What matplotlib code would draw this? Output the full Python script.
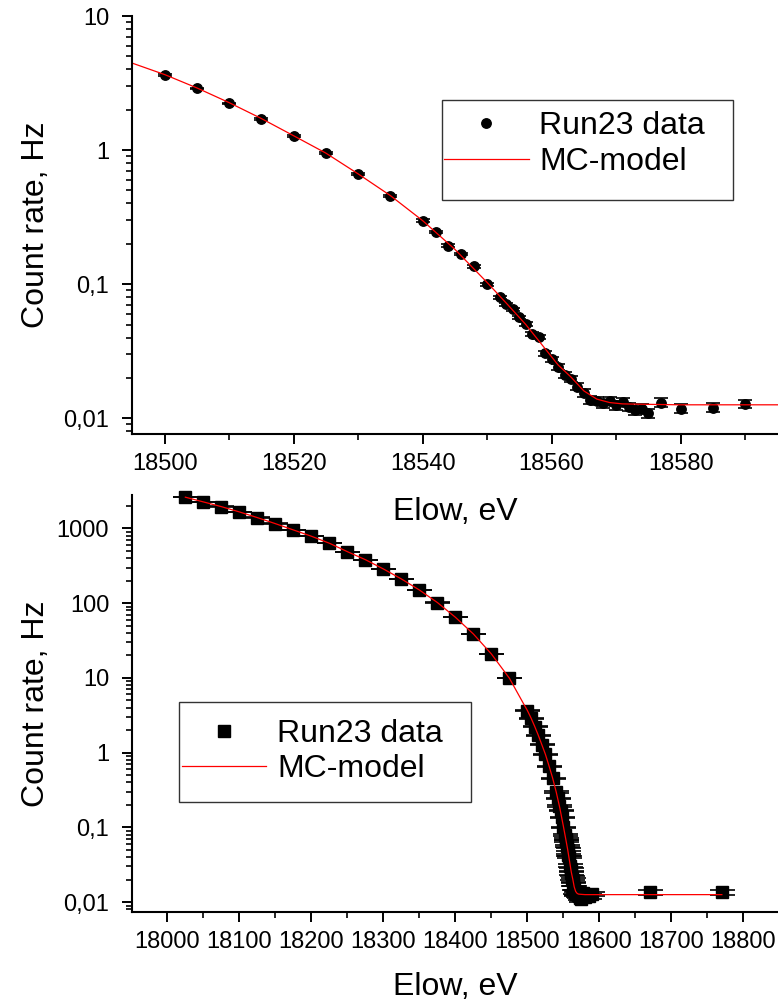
import matplotlib
matplotlib.use('Agg')
import matplotlib.pyplot as plt
from matplotlib.ticker import LogLocator, MultipleLocator, FuncFormatter, NullFormatter
from matplotlib.patches import Rectangle

plt.rcParams['font.family'] = ['Liberation Sans', 'DejaVu Sans']

# Run23, scan close to the endpoint (Elow in eV, count rate in Hz)
run_e = [18500, 18505, 18510, 18515, 18520, 18525, 18530, 18535, 18540,
         18542, 18544, 18546, 18548, 18550,
         18552, 18553, 18554, 18555, 18556, 18557, 18558, 18559, 18560, 18561, 18562, 18563,
         18564, 18565, 18566, 18567, 18568, 18569, 18570, 18571, 18572, 18573, 18574, 18575,
         18577, 18580, 18585, 18590]
run_rate = [3.63, 2.89, 2.23, 1.70, 1.27, 0.946, 0.660, 0.457, 0.298,
            0.245, 0.194, 0.168, 0.136, 0.100,
            0.0798, 0.0708, 0.0650, 0.0566, 0.0505, 0.0425, 0.0404, 0.0305, 0.0275, 0.0243, 0.0210, 0.0197,
            0.0172, 0.0155, 0.0137, 0.0135, 0.0129, 0.0134, 0.0125, 0.0133, 0.0122, 0.0115, 0.0118, 0.0109,
            0.0131, 0.0118, 0.0120, 0.0128]
run_err = [0.05, 0.04, 0.03, 0.025, 0.02, 0.015, 0.011, 0.008, 0.006,
           0.005, 0.004, 0.0035, 0.003, 0.0025,
           0.002, 0.002, 0.0019, 0.0018, 0.0017, 0.0016, 0.0015, 0.0014, 0.0013, 0.0012, 0.0011, 0.0011,
           0.001, 0.001, 0.0009, 0.0009, 0.0009, 0.0009, 0.0009, 0.0009, 0.0009, 0.0009, 0.0009, 0.0009,
           0.0010, 0.0009, 0.0009, 0.0009]

# wide scan below the endpoint (bottom panel only)
wide_e = [18025, 18050, 18075, 18100, 18125, 18150, 18175, 18200, 18225, 18250,
          18275, 18300, 18325, 18350, 18375, 18400, 18425, 18450, 18475]
wide_rate = [2620, 2265, 1958, 1664, 1396, 1159, 955, 787, 634, 489,
             382, 287, 211, 150, 102, 64.8, 38.7, 20.9, 9.9]
wide_err = [13, 11, 10, 8, 7, 6, 5, 4, 3, 2.5,
            2, 1.5, 1.1, 0.8, 0.5, 0.35, 0.2, 0.12, 0.06]

# background points far above the endpoint
tail_e = [18670, 18770]
tail_rate = [0.0135, 0.0135]
tail_err = [0.0009, 0.0009]

# MC model curve
model_e = [18025, 18050, 18075, 18100, 18125, 18150, 18175, 18200, 18225, 18250,
           18275, 18300, 18325, 18350, 18375, 18400, 18425, 18450, 18475, 18495,
           18500, 18505, 18510, 18515, 18520, 18525, 18530, 18535, 18540, 18545,
           18550, 18553, 18556, 18559, 18561, 18563, 18565, 18567, 18569, 18571,
           18575, 18580, 18600, 18770]
model_rate = [2620, 2265, 1958, 1664, 1396, 1159, 955, 787, 634, 489,
              382, 287, 211, 150, 102, 64.8, 38.7, 20.9, 9.9, 4.45,
              3.66, 2.91, 2.26, 1.72, 1.28, 0.95, 0.665, 0.458, 0.298, 0.182,
              0.103, 0.072, 0.050, 0.033, 0.025, 0.0203, 0.0160, 0.0139, 0.0131, 0.0128,
              0.0127, 0.0126, 0.0126, 0.0126]

all_e = wide_e + run_e + tail_e
all_rate = wide_rate + run_rate + tail_rate
all_err = wide_err + run_err + tail_err

comma = FuncFormatter(lambda v, pos: ('%g' % v).replace('.', ','))

fig = plt.figure(figsize=(7.78, 10.08), dpi=100)
ax1 = fig.add_axes([0.1693, 0.5692, 0.8307, 0.4149])
ax2 = fig.add_axes([0.1693, 0.0949, 0.8307, 0.4140])

# top panel
ax1.errorbar(run_e, run_rate, yerr=run_err, fmt='none', ecolor='black',
             elinewidth=1, capsize=4.7, capthick=1.2)
ax1.plot(run_e, run_rate, 'o', color='black', ms=6.8, label='Run23 data')
ax1.plot(model_e, model_rate, '-', color='red', lw=0.9, label='MC-model')
ax1.set_xlim(18494.9, 18595.1)
ax1.set_ylim(0.0076, 10)
ax1.xaxis.set_major_locator(MultipleLocator(20))
ax1.xaxis.set_minor_locator(MultipleLocator(10))

# bottom panel
ax2.errorbar(all_e, all_rate, yerr=all_err, fmt='none', ecolor='black',
             elinewidth=1, capsize=9, capthick=1.2)
ax2.plot(all_e, all_rate, 's', color='black', ms=9, clip_on=False, label='Run23 data')
ax2.plot(model_e, model_rate, '-', color='red', lw=0.9, label='MC-model')
ax2.set_xlim(17950.5, 18848)
ax2.set_ylim(0.0073, 2800)
ax2.xaxis.set_major_locator(MultipleLocator(100))
ax2.xaxis.set_minor_locator(MultipleLocator(50))

for ax in (ax1, ax2):
    ax.patch.set_visible(False)
    ax.set_yscale('log')
    ax.yaxis.set_major_locator(LogLocator(base=10, numticks=20))
    ax.yaxis.set_minor_locator(LogLocator(base=10, subs=range(2, 10), numticks=20))
    ax.yaxis.set_major_formatter(comma)
    ax.yaxis.set_minor_formatter(NullFormatter())
    ax.spines[['top', 'right']].set_visible(False)
    ax.spines[['left', 'bottom']].set_linewidth(1.5)
    ax.tick_params(which='major', direction='out', length=7.2, width=1.4, labelsize=17)
    ax.tick_params(which='minor', direction='out', length=4.3, width=1.2)
    ax.tick_params(axis='x', pad=6.5)
    ax.tick_params(axis='y', pad=9)
    ax.set_xlabel('Elow, eV', fontsize=23)
    ax.set_ylabel('Count rate, Hz', fontsize=23)
    ax.yaxis.set_label_coords(-0.125, 0.5)

ax1.xaxis.set_label_coords(0.5, -0.151)
ax2.xaxis.set_label_coords(0.5, -0.142)

ax1.legend(loc='upper left', bbox_to_anchor=(444 / 778, 1 - 111 / 1008),
           bbox_transform=fig.transFigure, frameon=False, borderpad=0, borderaxespad=0,
           handlelength=2.66, handletextpad=0.31, labelspacing=0.2, fontsize=23)
ax2.legend(loc='upper left', bbox_to_anchor=(182 / 778, 1 - 719 / 1008),
           bbox_transform=fig.transFigure, frameon=False, borderpad=0, borderaxespad=0,
           handlelength=2.63, handletextpad=0.34, labelspacing=0.15, fontsize=23)

fig.add_artist(Rectangle((442 / 778, 1 - 200 / 1008), 291 / 778, 100 / 1008,
                         transform=fig.transFigure, fill=False, lw=1, ec='#333333'))
fig.add_artist(Rectangle((179 / 778, 1 - 802 / 1008), 292 / 778, 100 / 1008,
                         transform=fig.transFigure, fill=False, lw=1, ec='#333333'))

fig.savefig('out.png', dpi=100)
